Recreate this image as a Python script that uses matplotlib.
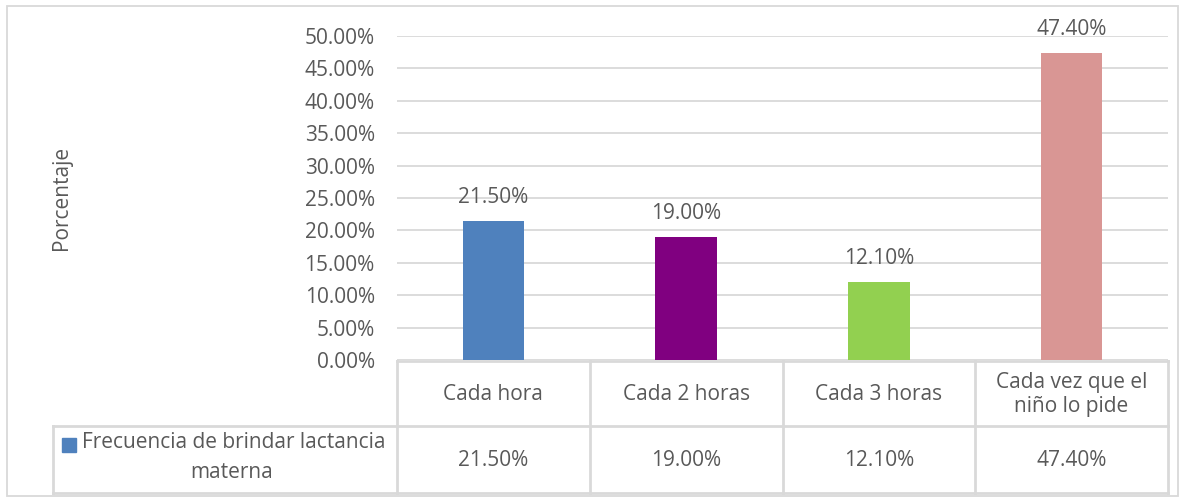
import matplotlib.pyplot as plt
import matplotlib.lines as mlines
import matplotlib.patches as mpatches

plt.rcParams['font.family'] = ['Open Sans', 'DejaVu Sans']

# data
categories = ["Cada hora", "Cada 2 horas", "Cada 3 horas", "Cada vez que el\nniño lo pide"]
values = [21.5, 19.0, 12.1, 47.4]
colors = ["#4F81BD", "#800080", "#92D050", "#D99694"]
series_name = "Frecuencia de brindar lactancia"
series_name2 = "materna"
yticks = [0, 5, 10, 15, 20, 25, 30, 35, 40, 45, 50]

W, H = 1185, 500
txt = "#595959"
grid = "#D9D9D9"
fs = 15

fig = plt.figure(figsize=(W / 100, H / 100), dpi=100)

# plot area in pixels
x0, x1 = 397, 1168
y_top, y_bot = 36, 360
ax = fig.add_axes([x0 / W, 1 - y_bot / H, (x1 - x0) / W, (y_bot - y_top) / H])
pos = list(range(len(categories)))
ax.bar(pos, values, width=0.32, color=colors, zorder=3)
ax.set_xlim(-0.5, len(categories) - 0.5)
ax.set_ylim(0, 50)
ax.set_yticks(yticks)
ax.set_yticklabels([f"{v:.2f}%" for v in yticks], color=txt, fontsize=fs)
ax.tick_params(axis='y', length=0, pad=16)
ax.set_xticks([])
ax.grid(axis='y', color=grid, linewidth=1.3, zorder=0)
for s in ax.spines.values():
    s.set_visible(False)
for p, v in zip(pos, values):
    ax.annotate(f"{v:.2f}%", (p, v), xytext=(0, 9), textcoords='offset points',
                ha='center', va='bottom', color=txt, fontsize=fs)

# overlay in pixel coordinates for the border, label and data table
ov = fig.add_axes([0, 0, 1, 1], zorder=-1)
ov.set_xlim(0, W)
ov.set_ylim(H, 0)
ov.axis('off')
ov.add_patch(mpatches.Rectangle((7, 6), 1171, 490, fill=False, edgecolor=grid, linewidth=1.3))
ov.text(62, 198, "Porcentaje", rotation=90, ha='center', va='center', color=txt, fontsize=fs)

ov2 = fig.add_axes([0, 0, 1, 1], zorder=5)
ov2.set_xlim(0, W)
ov2.set_ylim(H, 0)
ov2.axis('off')
ov2.patch.set_alpha(0)

t_top, t_mid, t_bot = 361, 426, 493
leg_x = 53
colw = (x1 - x0) / len(categories)
lw = 2
ov2.add_line(mlines.Line2D([x0, x1], [t_top, t_top], color=grid, lw=lw))
ov2.add_line(mlines.Line2D([leg_x, x1], [t_mid, t_mid], color=grid, lw=lw))
ov2.add_line(mlines.Line2D([leg_x, x1], [t_bot, t_bot], color=grid, lw=lw))
ov2.add_line(mlines.Line2D([leg_x, leg_x], [t_mid, t_bot], color=grid, lw=lw))
for i in range(len(categories) + 1):
    xx = x0 + i * colw
    ov2.add_line(mlines.Line2D([xx, xx], [t_top, t_bot], color=grid, lw=lw))
for i, (c, v) in enumerate(zip(categories, values)):
    cx = x0 + (i + 0.5) * colw
    ov2.text(cx, (t_top + t_mid) / 2 + 1, c, ha='center', va='center', color=txt,
             fontsize=fs, linespacing=1.2)
    ov2.text(cx, (t_mid + t_bot) / 2 + 1, f"{v:.2f}%", ha='center', va='center',
             color=txt, fontsize=fs)

ov2.add_patch(mpatches.Rectangle((62, 438), 14, 14, color=colors[0]))
ov2.text(82, 443, series_name, ha='left', va='center', color=txt, fontsize=fs)
ov2.text(232, 472, series_name2, ha='center', va='center', color=txt, fontsize=fs)

fig.savefig("out.png", dpi=100)
